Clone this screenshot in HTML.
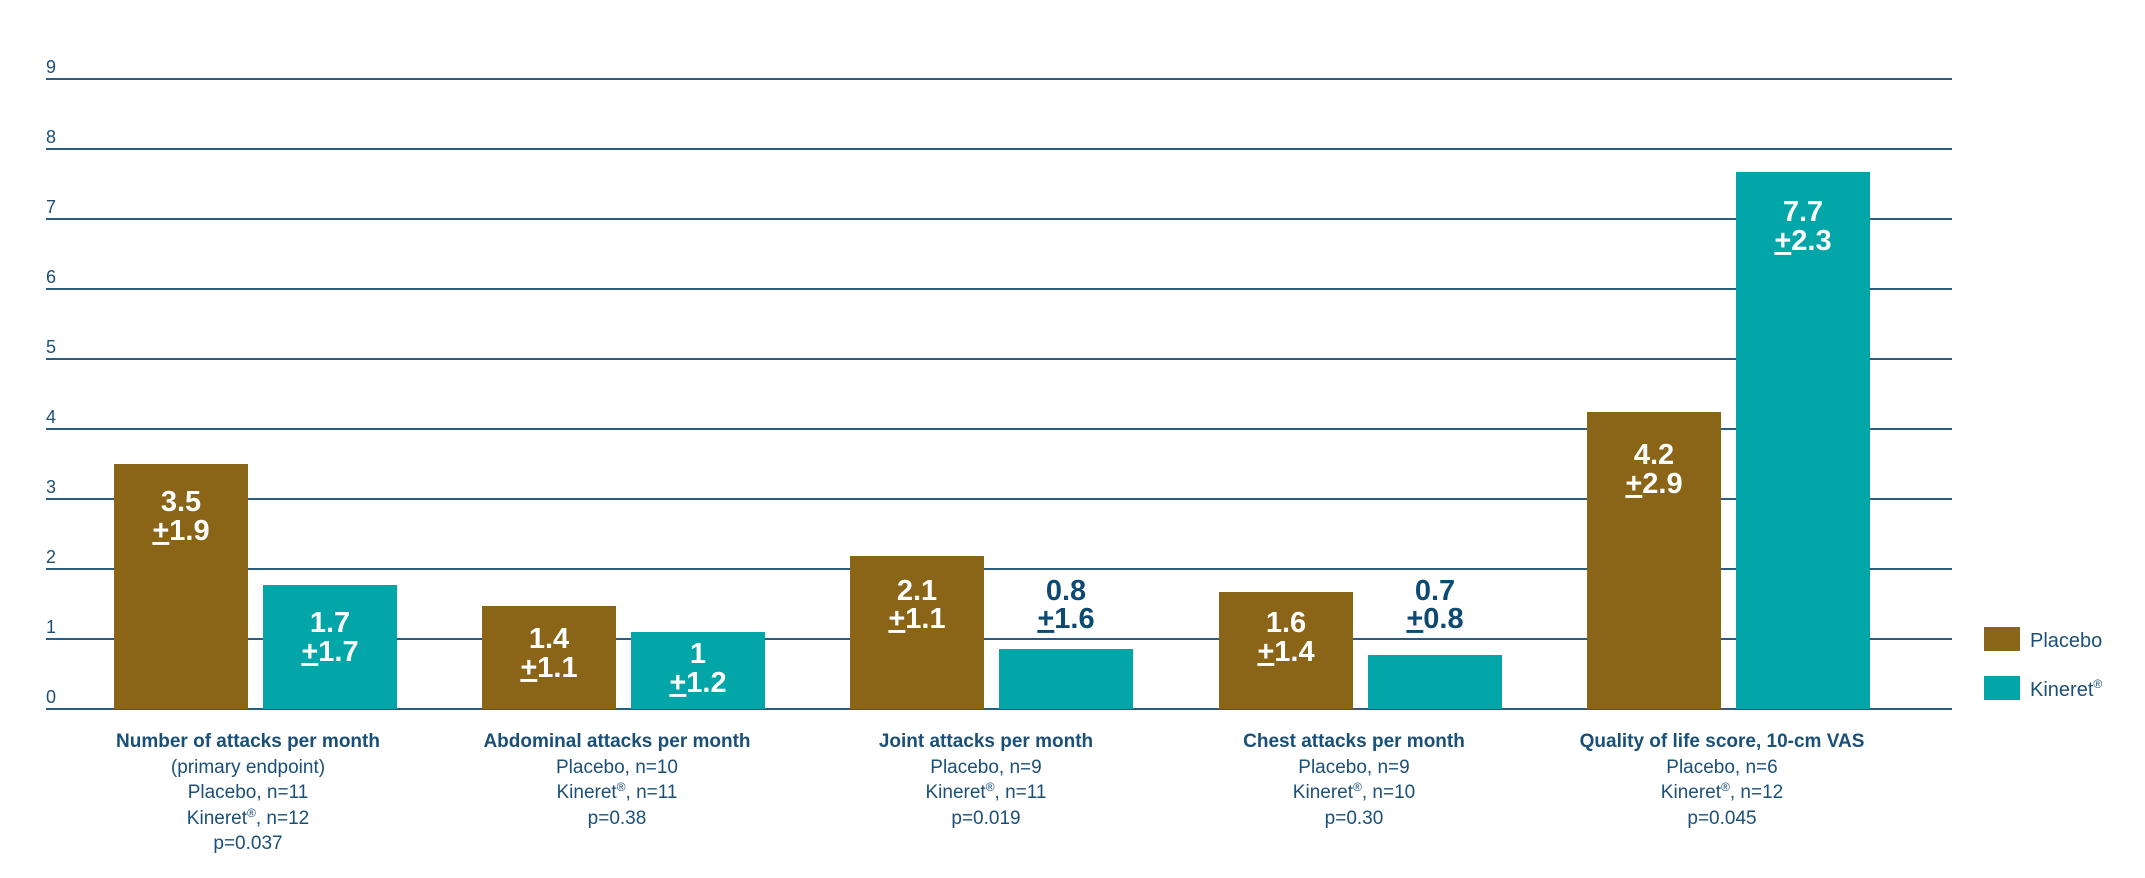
<!DOCTYPE html>
<html><head><meta charset="utf-8"><style>
html,body{margin:0;padding:0;background:#fff;}
svg{display:block;font-family:"Liberation Sans",sans-serif;}
</style></head><body>
<svg width="2145" height="878" viewBox="0 0 2145 878" xmlns="http://www.w3.org/2000/svg">
<g stroke="#2b5d80" stroke-width="2">
<line x1="46" x2="1952" y1="79" y2="79"/>
<line x1="46" x2="1952" y1="149" y2="149"/>
<line x1="46" x2="1952" y1="219" y2="219"/>
<line x1="46" x2="1952" y1="289" y2="289"/>
<line x1="46" x2="1952" y1="359" y2="359"/>
<line x1="46" x2="1952" y1="429" y2="429"/>
<line x1="46" x2="1952" y1="499" y2="499"/>
<line x1="46" x2="1952" y1="569" y2="569"/>
<line x1="46" x2="1952" y1="639" y2="639"/>
<line x1="46" x2="1952" y1="709" y2="709"/>
</g>
<g fill="#1a4f78" font-size="18">
<text x="46" y="73">9</text><text x="46" y="143">8</text><text x="46" y="213">7</text>
<text x="46" y="283">6</text><text x="46" y="353">5</text><text x="46" y="423">4</text>
<text x="46" y="493">3</text><text x="46" y="563">2</text><text x="46" y="633">1</text>
<text x="46" y="703">0</text>
</g>
<g>
<rect x="114" y="464" width="134" height="245" fill="#8a6518"/>
<rect x="263" y="585" width="134" height="124" fill="#02a6a9"/>
<rect x="482" y="606" width="134" height="103" fill="#8a6518"/>
<rect x="631" y="632" width="134" height="77" fill="#02a6a9"/>
<rect x="850" y="556" width="134" height="153" fill="#8a6518"/>
<rect x="999" y="649" width="134" height="60" fill="#02a6a9"/>
<rect x="1219" y="592" width="134" height="117" fill="#8a6518"/>
<rect x="1368" y="655" width="134" height="54" fill="#02a6a9"/>
<rect x="1587" y="412" width="134" height="297" fill="#8a6518"/>
<rect x="1736" y="172" width="134" height="537" fill="#02a6a9"/>
</g>
<g font-size="29" font-weight="bold" text-anchor="middle">
<g fill="#fff">
<text x="181" y="511">3.5</text><text x="181" y="540"><tspan text-decoration="underline">+</tspan>1.9</text>
<text x="330" y="632">1.7</text><text x="330" y="661"><tspan text-decoration="underline">+</tspan>1.7</text>
<text x="549" y="648">1.4</text><text x="549" y="677"><tspan text-decoration="underline">+</tspan>1.1</text>
<text x="698" y="663">1</text><text x="698" y="692"><tspan text-decoration="underline">+</tspan>1.2</text>
<text x="917" y="600">2.1</text><text x="917" y="628"><tspan text-decoration="underline">+</tspan>1.1</text>
<text x="1286" y="632">1.6</text><text x="1286" y="661"><tspan text-decoration="underline">+</tspan>1.4</text>
<text x="1654" y="464">4.2</text><text x="1654" y="493"><tspan text-decoration="underline">+</tspan>2.9</text>
<text x="1803" y="221">7.7</text><text x="1803" y="250"><tspan text-decoration="underline">+</tspan>2.3</text>
</g>
<g fill="#0d4a73">
<text x="1066" y="600">0.8</text><text x="1066" y="628"><tspan text-decoration="underline">+</tspan>1.6</text>
<text x="1435" y="600">0.7</text><text x="1435" y="628"><tspan text-decoration="underline">+</tspan>0.8</text>
</g>
</g>
<g fill="#1a4f78" font-size="19" text-anchor="middle">
<text x="248" y="747" font-weight="bold">Number of attacks per month</text>
<text x="248" y="773">(primary endpoint)</text>
<text x="248" y="798">Placebo, n=11</text>
<text x="248" y="824">Kineret<tspan font-size="12" dy="-7">®</tspan><tspan dy="7">, n=12</tspan></text>
<text x="248" y="849">p=0.037</text>

<text x="617" y="747" font-weight="bold">Abdominal attacks per month</text>
<text x="617" y="773">Placebo, n=10</text>
<text x="617" y="798">Kineret<tspan font-size="12" dy="-7">®</tspan><tspan dy="7">, n=11</tspan></text>
<text x="617" y="824">p=0.38</text>

<text x="986" y="747" font-weight="bold">Joint attacks per month</text>
<text x="986" y="773">Placebo, n=9</text>
<text x="986" y="798">Kineret<tspan font-size="12" dy="-7">®</tspan><tspan dy="7">, n=11</tspan></text>
<text x="986" y="824">p=0.019</text>

<text x="1354" y="747" font-weight="bold">Chest attacks per month</text>
<text x="1354" y="773">Placebo, n=9</text>
<text x="1354" y="798">Kineret<tspan font-size="12" dy="-7">®</tspan><tspan dy="7">, n=10</tspan></text>
<text x="1354" y="824">p=0.30</text>

<text x="1722" y="747" font-weight="bold">Quality of life score, 10-cm VAS</text>
<text x="1722" y="773">Placebo, n=6</text>
<text x="1722" y="798">Kineret<tspan font-size="12" dy="-7">®</tspan><tspan dy="7">, n=12</tspan></text>
<text x="1722" y="824">p=0.045</text>
</g>
<rect x="1984" y="627" width="36" height="24" fill="#8a6518"/>
<rect x="1984" y="676" width="36" height="24" fill="#02a6a9"/>
<g fill="#1a4f78" font-size="20">
<text x="2030" y="647">Placebo</text>
<text x="2030" y="696">Kineret<tspan font-size="12" dy="-8">®</tspan></text>
</g>
</svg>
</body></html>
